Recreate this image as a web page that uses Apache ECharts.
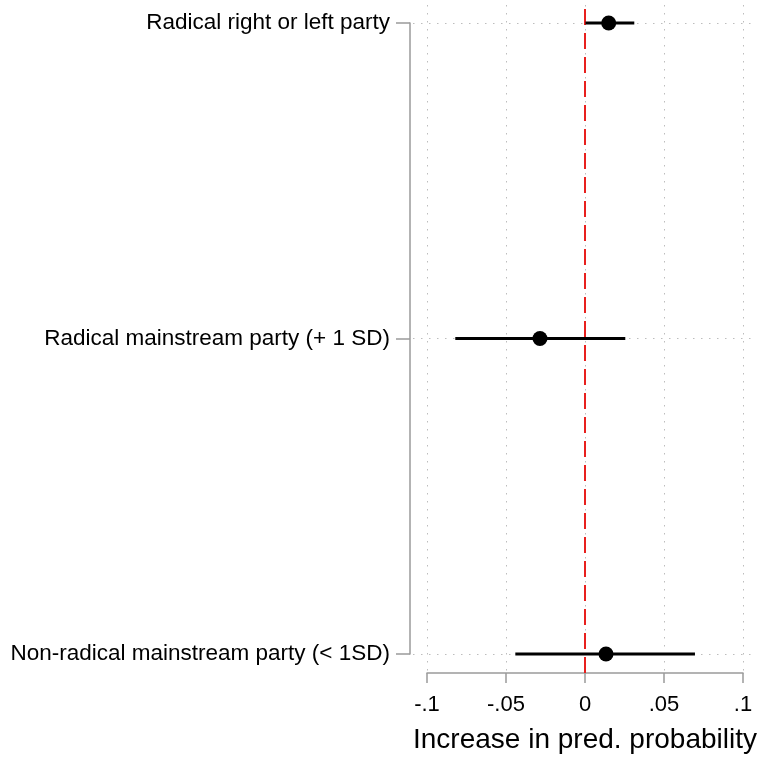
<!DOCTYPE html>
<html>
<head>
<meta charset="utf-8">
<script src="https://cdn.jsdelivr.net/npm/echarts@6/dist/echarts.min.js"></script>
<style>
  html, body { margin: 0; padding: 0; background: #fff; }
  #coefplot { width: 758px; height: 758px; }
</style>
</head>
<body>
<div id="coefplot"></div>
<script>
var categories = ['Radical right or left party', 'Radical mainstream party (+ 1 SD)', 'Non-radical mainstream party (< 1SD)']
var estimates = [0.015, -0.0285, 0.0133]
var ciLow = [0.0003, -0.0821, -0.0441]
var ciHigh = [0.0312, 0.0255, 0.0696]
var xTicks = ['-.1', '-.05', '0', '.05', '.1']
var refLine = 0

var font = 'Liberation Sans, Arial, sans-serif'
var axisGray = '#9a9a9a'
var dotted = { color: '#bdbdbd', width: 1, type: [1.5, 6.5] }

var ciData = categories.map(function(c, i) { return [ciLow[i], ciHigh[i], i] })
var pointData = categories.map(function(c, i) { return [estimates[i], i] })

var myChart = echarts.init(document.getElementById('coefplot'))
var option = {
  animation: false,
  grid: [
    // data grid
    { left: 427, right: 15, top: 23, bottom: 104, outerBoundsMode: 'none' },
    // taller grid for vertical gridlines and the zero line
    { left: 427, right: 15, top: 5, bottom: 85, outerBoundsMode: 'none' },
    // wider grid for horizontal gridlines
    { left: 413, right: 1, top: 23, bottom: 104, outerBoundsMode: 'none' }
  ],
  xAxis: [
    {
      gridIndex: 0, type: 'value', min: -0.1, max: 0.1, interval: 0.05,
      offset: 19,
      axisLine: { show: true, onZero: false, lineStyle: { color: axisGray, width: 1.5 } },
      axisTick: { show: true, length: 10, lineStyle: { color: axisGray, width: 1.5 } },
      axisLabel: {
        margin: 21, fontSize: 22, color: '#000', fontFamily: font,
        formatter: function(v) { return xTicks[Math.round((v + 0.1) / 0.05)] }
      },
      splitLine: { show: false },
      name: 'Increase in pred. probability', nameLocation: 'middle', nameGap: 53,
      nameTextStyle: { fontSize: 28, color: '#000', fontFamily: font }
    },
    {
      gridIndex: 1, type: 'value', min: -0.1, max: 0.1, interval: 0.05,
      axisLine: { show: false }, axisTick: { show: false }, axisLabel: { show: false },
      splitLine: { show: true, lineStyle: dotted }
    },
    {
      gridIndex: 2, type: 'value', show: false, min: 0, max: 1
    }
  ],
  yAxis: [
    {
      gridIndex: 0, type: 'category', data: categories, inverse: true, boundaryGap: false,
      offset: 17,
      axisLine: { show: true, onZero: false, lineStyle: { color: axisGray, width: 1.5 } },
      axisTick: { show: true, length: 14, lineStyle: { color: axisGray, width: 1.5 } },
      axisLabel: { margin: 20, fontSize: 22.5, color: '#000', fontFamily: font },
      splitLine: { show: false }
    },
    {
      gridIndex: 1, type: 'value', min: 0, max: 1, show: false
    },
    {
      gridIndex: 2, type: 'category', data: categories, inverse: true, boundaryGap: false,
      axisLine: { show: false }, axisTick: { show: false }, axisLabel: { show: false },
      splitLine: { show: true, lineStyle: dotted }
    }
  ],
  series: [
    {
      type: 'line', xAxisIndex: 1, yAxisIndex: 1,
      data: [[refLine, 0], [refLine, 1]],
      symbol: 'none', silent: true, z: 3,
      lineStyle: { color: '#e8201e', width: 2, type: [16, 8] }
    },
    {
      type: 'custom', xAxisIndex: 0, yAxisIndex: 0, z: 4,
      data: ciData,
      encode: { x: [0, 1], y: 2 },
      renderItem: function(params, api) {
        var s = api.coord([api.value(0), api.value(2)])
        var e = api.coord([api.value(1), api.value(2)])
        return {
          type: 'line',
          shape: { x1: s[0], y1: s[1], x2: e[0], y2: e[1] },
          style: { stroke: '#000', lineWidth: 3 }
        }
      }
    },
    {
      type: 'scatter', xAxisIndex: 0, yAxisIndex: 0, z: 5,
      data: pointData,
      symbol: 'circle', symbolSize: 15,
      itemStyle: { color: '#000', opacity: 1 }
    }
  ]
}
myChart.setOption(option)
</script>
</body>
</html>
